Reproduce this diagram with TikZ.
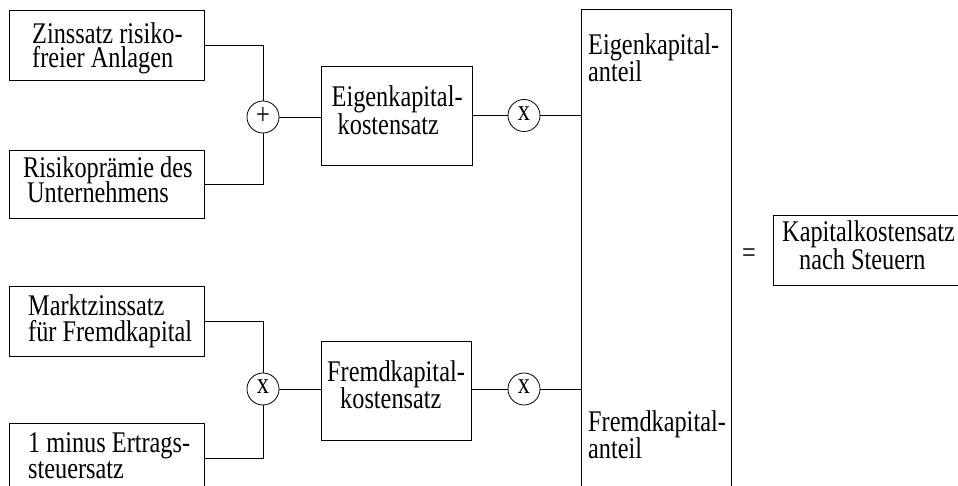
\documentclass[tikz,border=0pt]{standalone}
\usepackage{fontspec}
\setmainfont{Liberation Serif}[FakeStretch=0.81]
\begin{document}
\begin{tikzpicture}[x=1pt,y=-1pt,
  box/.style={draw, line width=0.8pt, anchor=north west, inner sep=0pt},
  lbl/.style={anchor=base west, inner sep=0pt, font=\fontsize{30}{30}\selectfont},
  op/.style={draw, circle, minimum size=32pt, inner sep=0pt, line width=0.8pt, font=\fontsize{30}{30}\selectfont},
  wire/.style={line width=0.8pt}]
\useasboundingbox (0,0) rectangle (958,486);
\clip (0,0) rectangle (958,486);
% boxes
\node[box, minimum width=195pt, minimum height=70pt] (b1) at (9,10) {};
\node[box, minimum width=195pt, minimum height=68pt] (b2) at (9,150) {};
\node[box, minimum width=195pt, minimum height=70pt] (b3) at (9,286) {};
\node[box, minimum width=195pt, minimum height=70pt] (b4) at (9,423) {};
\node[box, minimum width=151pt, minimum height=99pt] (ek) at (321,66) {};
\node[box, minimum width=150pt, minimum height=99pt] (fk) at (321,341) {};
\node[box, minimum width=150pt, minimum height=520pt] (big) at (581,9) {};
\node[box, minimum width=200pt, minimum height=70pt] (res) at (773,215) {};
% operators
\node[op] (p1) at (263,117) {};
\node[op] (m1) at (524,115.5) {};
\node[op] (m2) at (263,389) {};
\node[op] (m3) at (524,389) {};
\node[inner sep=0pt, font=\fontsize{30}{30}\selectfont] (p1s) at ([yshift=1pt]p1.center) {+};
\node[inner sep=0pt, font=\fontsize{30}{30}\selectfont] (m1s) at ([yshift=2pt]m1.center) {x};
\node[inner sep=0pt, font=\fontsize{30}{30}\selectfont] (m2s) at ([yshift=2pt]m2.center) {x};
\node[inner sep=0pt, font=\fontsize{30}{30}\selectfont] (m3s) at ([yshift=2pt]m3.center) {x};
% wires
\draw[wire] (b1.east) -| (p1.north);
\draw[wire] (b2.east) -| (p1.south);
\draw[wire] (p1.east) -- (p1.east -| ek.west);
\draw[wire] (ek.east |- m1.west) -- (m1.west);
\draw[wire] (m1.east) -- (m1.east -| big.west);
\draw[wire] (b3.east) -| (m2.north);
\draw[wire] (b4.east) -| (m2.south);
\draw[wire] (m2.east) -- (m2.east -| fk.west);
\draw[wire] (fk.east |- m3.west) -- (m3.west);
\draw[wire] (m3.east) -- (m3.east -| big.west);
% labels
\node[lbl] (t1a) at (32,44) {Zinssatz risiko-};
\node[lbl] (t1b) at (32,68) {freier Anlagen};
\node[lbl] (t2a) at (23,178) {Risikoprämie des};
\node[lbl] (t2b) at (27,203) {Unternehmens};
\node[lbl] (t3a) at (28,315) {Marktzinssatz};
\node[lbl] (t3b) at (28,341.5) {für Fremdkapital};
\node[lbl] (t4a) at (28,452.5) {1 minus Ertrags-};
\node[lbl] (t4b) at (28,478) {steuersatz};
\node[lbl] (tea) at (331.5,107) {Eigenkapital-};
\node[lbl] (teb) at (337.5,135) {kostensatz};
\node[lbl] (tfa) at (327,381) {Fremdkapital-};
\node[lbl] (tfb) at (340,408) {kostensatz};
\node[lbl] (tga) at (588,55) {Eigenkapital-};
\node[lbl] (tgb) at (588,81.5) {anteil};
\node[lbl] (tha) at (588,431.5) {Fremdkapital-};
\node[lbl] (thb) at (588,458) {anteil};
\node[lbl] (eq) at (742,262) {=};
\node[lbl] (tra) at (782,241.5) {Kapitalkostensatz};
\node[lbl] (trb) at (799,270) {nach Steuern};
\end{tikzpicture}
\end{document}
